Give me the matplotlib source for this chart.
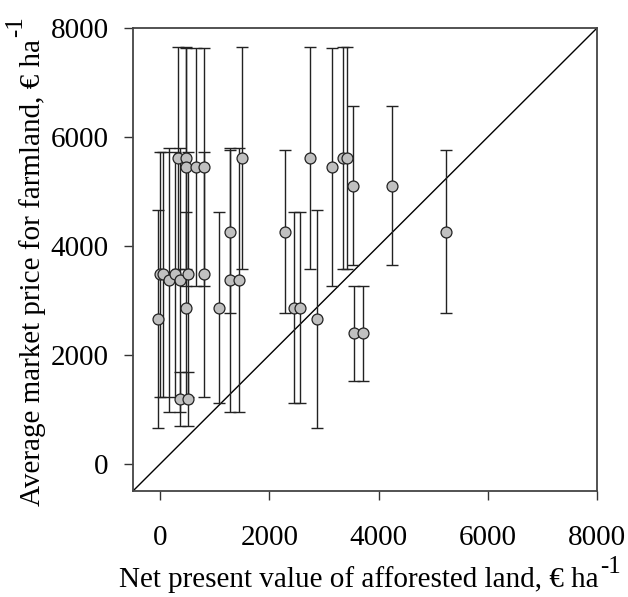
import matplotlib
matplotlib.use("Agg")
import matplotlib.pyplot as plt

plt.rcParams['font.family'] = ['Liberation Serif', 'DejaVu Serif']

npv = [-48, -5, 55, 159, 263, 329, 366, 366, 464, 464, 470, 501, 501, 658, 793, 804,
       1073, 1274, 1274, 1439, 1500, 2280, 2444, 2559, 2742, 2865, 3151, 3346, 3413,
       3523, 3553, 3705, 4241, 5241]
price = [2655, 3475, 3475, 3370, 3475, 5615, 3370, 1187, 5615, 5450, 2863, 3475, 1187,
         5450, 3475, 5450, 2863, 4264, 3370, 3370, 5615, 4264, 2863, 2863, 5615, 2655,
         5450, 5615, 5615, 5108, 2392, 2392, 5108, 4264]
price_err = [2000, 2250, 2250, 2420, 2250, 2030, 2420, 500, 2030, 2190, 1755, 2250, 500,
             2190, 2250, 2190, 1755, 1488, 2420, 2420, 2030, 1488, 1755, 1755, 2030, 2000,
             2190, 2030, 2030, 1461, 880, 880, 1461, 1488]
ticks = [0, 2000, 4000, 6000, 8000]
lims = [-500, 8000]
xlabel_main = 'Net present value of afforested land, € ha'
ylabel_main = 'Average market price for farmland, € ha'
unit_sup = '-1'

fig = plt.figure(figsize=(6.28, 5.97), dpi=100)
ax = fig.add_axes([0.2118, 0.1776, 0.7388, 0.7754])

ax.plot(lims, lims, color='black', lw=1.0, zorder=1)
ax.errorbar(npv, price, yerr=price_err, fmt='none', ecolor='#222222', elinewidth=1.0,
            capsize=4.5, capthick=1.0, zorder=2)
ax.scatter(npv, price, s=62, facecolor='#c0c0c0', edgecolor='#222222', linewidth=0.9, zorder=3)

ax.set_xlim(lims)
ax.set_ylim(lims)
ax.set_xticks(ticks)
ax.set_yticks(ticks)
ax.tick_params(direction='out', length=6.5, width=1.0, labelsize=21, colors='#333333',
               labelcolor='black')
ax.tick_params(axis='y', pad=11)
ax.tick_params(axis='x', pad=18)
for s in ax.spines.values():
    s.set_linewidth(1.3)
    s.set_color('#444444')

fs = 21
xl = ax.set_xlabel(xlabel_main, fontsize=fs)
yl = ax.set_ylabel(ylabel_main, fontsize=fs)
ax.xaxis.set_label_coords(0.487, -0.162)
ax.yaxis.set_label_coords(-0.1875, 0.473)

fig.canvas.draw()
r = fig.canvas.get_renderer()
inv = fig.transFigure.inverted()
bx = xl.get_window_extent(r)
(x1, y0) = inv.transform((bx.x1, bx.y0))
(_, y1) = inv.transform((bx.x1, bx.y1))
fig.text(x1 + 0.002, y0 + (y1 - y0) * 0.55, unit_sup, fontsize=18, ha='left', va='bottom')
by = yl.get_window_extent(r)
(yx0, yy1) = inv.transform((by.x0, by.y1))
(yx1, _) = inv.transform((by.x1, by.y1))
fig.text(yx0 + (yx1 - yx0) * 0.3, yy1 + 0.002, unit_sup, fontsize=18, rotation=90,
         ha='right', va='bottom')

fig.savefig('out.png', dpi=100)
